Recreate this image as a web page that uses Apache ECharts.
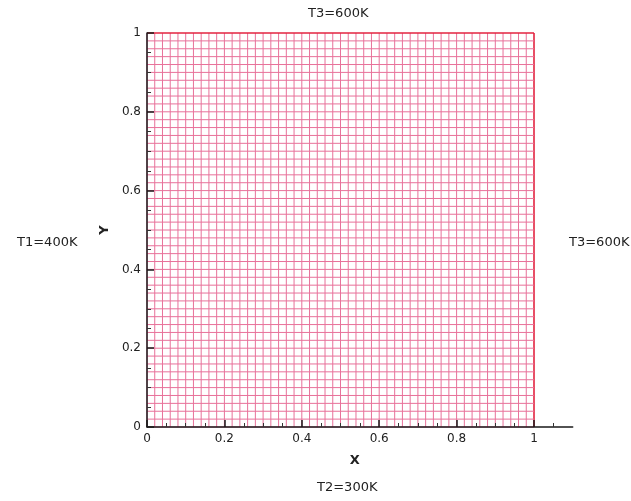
<!DOCTYPE html>
<html>
<head>
<meta charset="utf-8">
<script src="https://cdn.jsdelivr.net/npm/echarts@6/dist/echarts.min.js"></script>
<style>
  html, body { margin: 0; padding: 0; background: #fff; }
  #chart { width: 631px; height: 501px; }
</style>
</head>
<body>
<div id="chart"></div>
<script>
// Mesh data: uniform structured grid on the unit square
const domainX = [0, 1];
const domainY = [0, 1];
const cellsX = 50;
const cellsY = 50;

// Axis ticks
const xTicks = [0, 0.2, 0.4, 0.6, 0.8, 1];
const yTicks = [0, 0.2, 0.4, 0.6, 0.8, 1];

// Boundary condition labels
const bcTop = 'T3=600K';
const bcLeft = 'T1=400K';
const bcRight = 'T3=600K';
const bcBottom = 'T2=300K';

// build mesh segments [x0, y0, x1, y1, isBoundary]
const segments = [];
for (let i = 0; i <= cellsX; i++) {
  const x = domainX[0] + (domainX[1] - domainX[0]) * i / cellsX;
  segments.push([x, domainY[0], x, domainY[1], i === cellsX ? 1 : 0]);
}
for (let j = 0; j <= cellsY; j++) {
  const y = domainY[0] + (domainY[1] - domainY[0]) * j / cellsY;
  segments.push([domainX[0], y, domainX[1], y, j === cellsY ? 1 : 0]);
}

var chart = echarts.init(document.getElementById('chart'));

const labelStyle = { fontFamily: 'DejaVu Sans', fontSize: 12, color: '#222' };
const bcStyle = { fontFamily: 'DejaVu Sans', fontSize: 13, fill: '#222' };

var option = {
  animation: false,
  backgroundColor: '#fff',
  grid: { left: 147, top: 33, width: 425.7, height: 394 },
  xAxis: {
    type: 'value',
    min: 0,
    max: 1.1,
    interval: 0.2,
    z: 5,
    name: 'X',
    nameLocation: 'middle',
    nameGap: 27,
    nameTextStyle: { fontFamily: 'DejaVu Sans', fontSize: 13, fontWeight: 'bold', color: '#222', padding: [0, 10, 0, 0] },
    axisLine: { lineStyle: { color: '#1a1a1a', width: 1.5 } },
    axisTick: { inside: true, length: 7, customValues: xTicks, lineStyle: { color: '#1a1a1a', width: 1.5 } },
    minorTick: { show: true, splitNumber: 4, length: 4, lineStyle: { color: '#333', width: 1 } },
    axisLabel: { ...labelStyle, margin: 6, customValues: xTicks,
      formatter: v => String(Math.round(v * 10) / 10) },
    splitLine: { show: false }
  },
  yAxis: {
    type: 'value',
    min: 0,
    max: 1,
    interval: 0.2,
    z: 5,
    name: 'Y',
    nameLocation: 'middle',
    nameGap: 32,
    nameRotate: 90,
    nameTextStyle: { fontFamily: 'DejaVu Sans', fontSize: 13, fontWeight: 'bold', color: '#222' },
    axisLine: { show: true, lineStyle: { color: '#1a1a1a', width: 1.5 } },
    axisTick: { show: true, inside: true, length: 7, lineStyle: { color: '#1a1a1a', width: 1.5 } },
    minorTick: { show: true, splitNumber: 4, length: 4, lineStyle: { color: '#333', width: 1 } },
    axisLabel: { ...labelStyle, margin: 6,
      formatter: v => String(Math.round(v * 10) / 10) },
    splitLine: { show: false }
  },
  graphic: [
    { type: 'text', left: 308, top: 7, style: { text: bcTop, ...bcStyle }, z: 10 },
    { type: 'text', left: 17, top: 236, style: { text: bcLeft, ...bcStyle }, z: 10 },
    { type: 'text', left: 569, top: 236, style: { text: bcRight, ...bcStyle }, z: 10 },
    { type: 'text', left: 317, top: 481, style: { text: bcBottom, ...bcStyle }, z: 10 }
  ],
  series: [{
    type: 'custom',
    coordinateSystem: 'cartesian2d',
    silent: true,
    z: 1,
    clip: false,
    encode: { x: [0, 2], y: [1, 3] },
    renderItem: function (params, api) {
      const p0 = api.coord([api.value(0), api.value(1)]);
      const p1 = api.coord([api.value(2), api.value(3)]);
      const edge = api.value(4) === 1;
      return {
        type: 'line',
        shape: { x1: p0[0], y1: p0[1], x2: p1[0], y2: p1[1] },
        style: { stroke: edge ? '#e3233f' : '#e8719a', lineWidth: edge ? 1.6 : 1 }
      };
    },
    data: segments
  }]
};

chart.setOption(option);
</script>
</body>
</html>
